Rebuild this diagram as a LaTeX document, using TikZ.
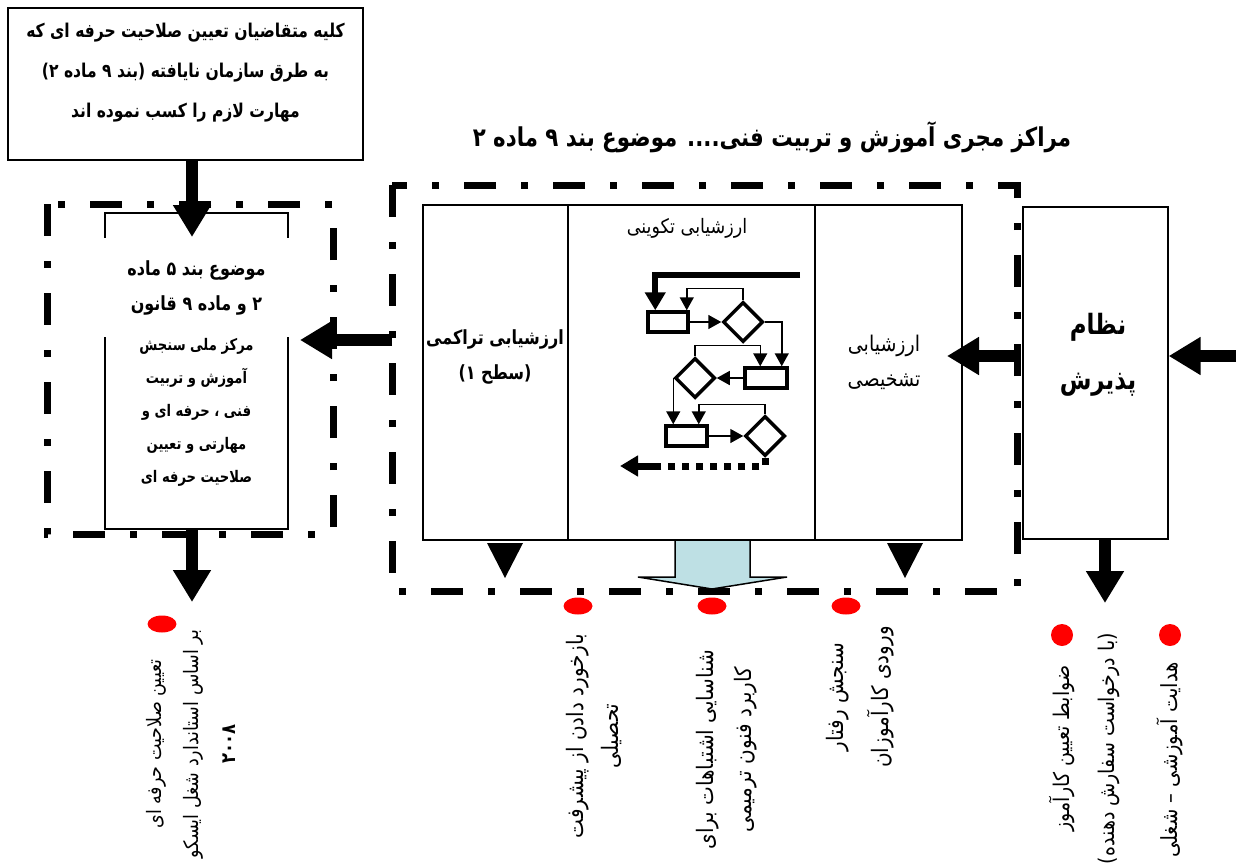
\documentclass[tikz,border=0pt]{standalone}
\usepackage{fontspec}
\usetikzlibrary{calc,arrows.meta,shapes.geometric}
\newfontfamily\farsi[Script=Arabic,FakeStretch=0.88]{DejaVu Sans}
\newfontfamily\titr[Script=Arabic,FakeStretch=0.82]{DejaVu Sans Bold}
\TeXXeTstate=1
\newcommand{\fa}[1]{\beginR #1\endR}
\definecolor{arrowblue}{RGB}{190,224,228}
\tikzset{
  dashframe/.style={line width=7pt, dash pattern=on 32pt off 25pt on 7pt off 25pt},
  box/.style={draw, line width=1.3pt, inner sep=0pt},
  fatarrow/.style={line width=12pt, -{Triangle[width=36pt,length=32pt]}},
  fcbox/.style={draw, line width=3.5pt, minimum width=40pt, minimum height=20pt, inner sep=0pt},
  fcdia/.style={draw, diamond, line width=3.5pt, minimum width=40pt, minimum height=40pt, inner sep=0pt},
  fcarrow/.style={line width=1.5pt, -{Triangle[width=14pt,length=13pt]}},
  reddot/.style={ellipse, fill=red, inner sep=0pt, minimum width=29pt, minimum height=17pt},
  note/.style={rotate=90, align=center, font=\farsi\fontsize{22.7}{38}\selectfont},
}
\begin{document}
\begin{tikzpicture}[x=1pt,y=-1pt]
\useasboundingbox (0,0) rectangle (1240,865);
% top box and title
\node[box, minimum width=355pt, minimum height=152pt] (cand) at (185.5,84) {};
\node[font=\titr\fontsize{19}{40}\selectfont, align=center] (candtxt) at (185.5,73)
  {\fa{کلیه متقاضیان تعیین صلاحیت حرفه ای که}\\\fa{به طرق سازمان نایافته (بند ۹ ماده ۲)}\\\fa{مهارت لازم را کسب نموده اند}};
\node[font=\titr\fontsize{26}{30}\selectfont] (title) at (772,137)
  {\fa{مراکز مجری آموزش و تربیت فنی.... موضوع بند ۹ ماده ۲}};

% dash-dot frames
\draw[dashframe] (47,204) rectangle (333,534);
\draw[dashframe] (392,185) rectangle (1017,591);

% national centre
\node[box, minimum width=183pt, minimum height=316pt] (natl) at (196.5,371) {};
\node[fill=white, minimum width=195pt, minimum height=99pt, align=center,
  font=\titr\fontsize{19.5}{35}\selectfont] (law) at (196.5,287.5)
  {\fa{موضوع بند ۵ ماده}\\\fa{۲ و ماده ۹ قانون}};
\node[font=\titr\fontsize{16}{33}\selectfont, align=center] (natltxt) at (196.5,412)
  {\fa{مرکز ملی سنجش}\\\fa{آموزش و تربیت}\\\fa{فنی ، حرفه ای و}\\\fa{مهارتی و تعیین}\\\fa{صلاحیت حرفه ای}};

% three evaluation panels
\node[box, minimum width=145pt, minimum height=335pt] (summ) at (495.5,372.5) {};
\node[box, minimum width=247pt, minimum height=335pt] (form) at (691.5,372.5) {};
\node[box, minimum width=147pt, minimum height=335pt] (diag) at (888.5,372.5) {};
\node[font=\titr\fontsize{19.5}{35}\selectfont, align=center] (summtxt) at (495,357)
  {\fa{ارزشیابی تراکمی}\\\fa{(سطح ۱)}};
\node[font=\farsi\fontsize{19.9}{22}\selectfont] (formtxt) at (687,228) {\fa{ارزشیابی تکوینی}};
\node[font=\farsi\fontsize{21.6}{35}\selectfont, align=center] (diagtxt) at (884,362)
  {\fa{ارزشیابی}\\\fa{تشخیصی}};

% admission box
\node[box, minimum width=145pt, minimum height=332pt] (admit) at (1095.5,373) {};
\node[font=\titr\fontsize{28}{55}\selectfont, align=center] (admittxt) at (1098,355)
  {\fa{نظام}\\\fa{پذیرش}};

% small flowchart
\node[fcbox] (r1) at (668,322) {};
\node[fcdia] (d1) at (743,322) {};
\node[fcbox, minimum width=42pt] (r2) at (766,378) {};
\node[fcdia] (d2) at (695,378) {};
\node[fcbox, minimum width=41pt] (r3) at (686.5,436) {};
\node[fcdia] (d3) at (765,436) {};
\coordinate (fcin) at (800,275);
\coordinate (fcturn) at (657,466);
\coordinate (fcout) at (620,466);
\draw[line width=6pt, -{Triangle[width=20pt,length=18pt]}] (fcin) -| ($(r1.north west)+(9,0)$);
\draw[fcarrow] (d1.north) -- ++(0,-12) -| ($(r1.north east)+(-3,0)$);
\draw[fcarrow] (r1.east) -- (d1.west);
\draw[fcarrow] (d1.east) -| ($(r2.north east)+(-7,0)$);
\draw[fcarrow] (r2.west) -- (d2.east);
\draw[fcarrow] (d2.north) -- ++(0,-11) -| ($(r2.north west)+(17,0)$);
\draw[fcarrow] (d2.west) -- (d2.west |- r3.north);
\draw[fcarrow] (d3.north) -- ++(0,-10) -| ($(r3.north east)+(-10,0)$);
\draw[fcarrow] (r3.east) -- (d3.west);
\draw[line width=7pt, dash pattern=on 7pt off 7pt] (d3.south) |- (fcturn);
\draw[line width=7pt, -{Triangle[width=20pt,length=18pt]}] (fcturn) -- (fcout);

% big arrows
\coordinate (natlin) at (192,237);
\coordinate (natlout) at (192,602);
\coordinate (mfwest) at (392,340);
\coordinate (lfeast) at (300,340);
\coordinate (rin) at (1236,356);
\coordinate (mfeast) at (1020,356);
\coordinate (diagin) at (947,356);
\coordinate (admitout) at (1105,603);
\draw[fatarrow] ($(cand.south)+(6.5,0)$) -- (natlin);
\draw[fatarrow] ($(natl.south)+(-4.5,0)$) -- (natlout);
\draw[fatarrow] (mfwest) -- (lfeast);
\draw[fatarrow] (rin) -- (admit.east |- rin);
\draw[fatarrow] (mfeast) -- (diagin);
\draw[fatarrow] (admit.south -| admitout) -- (admitout);

% heads under the panels
\fill (487,543) -- (523,543) -- (505,578) -- cycle;
\fill (887,543) -- (923,543) -- (905,578) -- cycle;
\draw[line width=1.5pt, fill=arrowblue] (675,540) -- (675,577) -- (638,577) -- (712,589)
  -- (787,577) -- (750,577) -- (750,540) -- cycle;

% outcomes
\node[reddot] (dot1) at (162,624) {};
\node[reddot] (dot2) at (578,606) {};
\node[reddot] (dot3) at (712,606) {};
\node[reddot] (dot4) at (846,606) {};
\node[reddot, minimum width=22pt, minimum height=22pt] (dot5) at (1062,635) {};
\node[reddot, minimum width=22pt, minimum height=22pt] (dot6) at (1170,635) {};
\node[note, font=\farsi\fontsize{19.9}{37}\selectfont] (out1) at (191,744)
  {\fa{تعیین صلاحیت حرفه ای}\\\fa{بر اساس استاندارد شغل ایسکو}\\\fa{\titr ۲۰۰۸}};
\node[note, font=\farsi\fontsize{22.7}{35}\selectfont] (out2) at (594.5,736)
  {\fa{بازخورد دادن از پیشرفت}\\\fa{تحصیلی}};
\node[note] (out3) at (726.5,749.5)
  {\fa{شناسایی اشتباهات برای}\\\fa{کاربرد فنون ترمیمی}};
\node[note, font=\farsi\fontsize{22.7}{45}\selectfont] (out4) at (860.5,697)
  {\fa{سنجش رفتار}\\\fa{ورودی کارآموزان}};
\node[note, font=\farsi\fontsize{21.6}{45}\selectfont] (out5) at (1084.5,748.5)
  {\fa{ضوابط تعیین کارآموز}\\\fa{(با درخواست سفارش دهنده)}};
\node[note, font=\farsi\fontsize{22.2}{38}\selectfont] (out6) at (1170,760) {\fa{هدایت آموزشی – شغلی}};
\end{tikzpicture}
\end{document}
